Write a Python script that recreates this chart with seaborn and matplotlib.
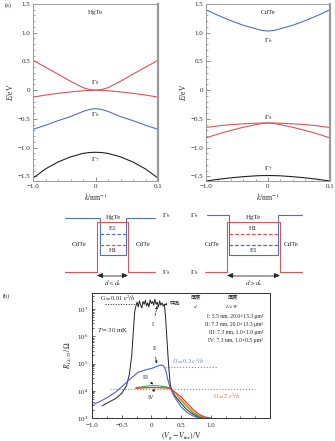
import matplotlib
matplotlib.use("Agg")
import matplotlib.pyplot as plt
import seaborn as sns
import pandas as pd
from matplotlib.ticker import FixedLocator, MultipleLocator, LogLocator, NullFormatter

sns.set_style("ticks")
plt.rcParams['font.family'] = ['Liberation Serif', 'Noto Sans CJK SC', 'DejaVu Sans']
plt.rcParams['mathtext.fontset'] = 'stix'
plt.rcParams['axes.unicode_minus'] = True

# ---------------- data: panel (a) band structure ----------------
k = [-1.0, -0.8, -0.6, -0.4, -0.2, -0.1, 0.0, 0.1, 0.2, 0.4, 0.6, 0.8, 1.0]
k_tick_pos = [-1.0, 0.0, 1.0]
k_tick_labels = ["\u22121.0", "0", "0.1"]
e_ticks = [-1.5, -1.0, -0.5, 0.0, 0.5, 1.0, 1.5]
e_tick_labels = ["\u22121.5", "\u22121.0", "\u22120.5", "0", "0.5", "1.0", "1.5"]

hgte_g8_up = [0.52, 0.40, 0.28, 0.155, 0.045, 0.012, 0.0, 0.012, 0.045, 0.155, 0.28, 0.40, 0.52]
hgte_g8_lo = [-0.12, -0.085, -0.055, -0.03, -0.01, -0.003, 0.0, -0.003, -0.01, -0.03, -0.055, -0.085, -0.12]
hgte_g6 = [-0.68, -0.61, -0.53, -0.46, -0.37, -0.335, -0.32, -0.335, -0.37, -0.46, -0.53, -0.61, -0.68]
hgte_g7 = [-1.53, -1.37, -1.25, -1.16, -1.10, -1.085, -1.08, -1.085, -1.10, -1.16, -1.25, -1.37, -1.53]

cdte_g6 = [1.40, 1.30, 1.21, 1.13, 1.07, 1.04, 1.03, 1.04, 1.07, 1.13, 1.21, 1.30, 1.40]
cdte_g8_up = [-0.65, -0.62, -0.60, -0.585, -0.575, -0.572, -0.57, -0.572, -0.575, -0.585, -0.60, -0.62, -0.65]
cdte_g8_lo = [-0.83, -0.76, -0.70, -0.645, -0.60, -0.58, -0.57, -0.58, -0.60, -0.645, -0.70, -0.76, -0.83]
cdte_g7 = [-1.58, -1.55, -1.525, -1.505, -1.49, -1.486, -1.485, -1.486, -1.49, -1.505, -1.525, -1.55, -1.58]

# ---------------- data: panel (b) resistance ----------------
x_I = [-0.83, -0.72, -0.60, -0.50, -0.42, -0.37, -0.33, -0.30, -0.28,
       -0.26, -0.24, -0.22, -0.20, -0.18, -0.16, -0.14, -0.12, -0.10, -0.08, -0.06, -0.04,
       -0.02, 0.00, 0.02, 0.04, 0.06, 0.08, 0.10, 0.12, 0.14, 0.16, 0.18, 0.20, 0.22,
       0.24, 0.26, 0.28, 0.30, 0.32, 0.36, 0.40, 0.50, 0.60, 0.70, 0.80, 0.90]
R_I = [2.8e3, 3.8e3, 5.2e3, 8e3, 1.5e4, 4e4, 2e5, 2e6, 8e6,
       1.3e7, 1.8e7, 1.2e7, 2.0e7, 1.4e7, 1.1e7, 1.9e7, 1.5e7, 2.1e7, 1.3e7, 1.7e7, 1.2e7,
       2.2e7, 1.6e7, 1.9e7, 1.4e7, 2.3e7, 1.5e7, 1.8e7, 1.2e7, 2.0e7, 1.4e7, 1.7e7, 1.3e7, 1.5e7,
       5e6, 1e6, 2e5, 5e4, 1.6e4, 9e3, 6.5e3, 3.5e3, 2e3, 1.4e3, 1.1e3, 1e3]

x_II = [-0.97, -0.85, -0.72, -0.60, -0.47, -0.35, -0.22, -0.10, 0.00, 0.10, 0.16, 0.20,
        0.24, 0.28, 0.32, 0.40, 0.50, 0.60, 0.70, 0.80, 0.87]
R_II = [3.2e3, 4.2e3, 6e3, 9e3, 1.6e4, 2.8e4, 4.8e4, 5.8e4, 6.6e4, 8e4, 8.8e4, 8.5e4,
        6e4, 2.5e4, 1.2e4, 5.5e3, 2.6e3, 1.6e3, 1.2e3, 1.05e3, 1e3]

x_III = [-0.25, -0.15, -0.05, 0.05, 0.15, 0.25, 0.32, 0.40, 0.50, 0.60, 0.70, 0.80, 0.90, 0.97]
R_III = [1.3e4, 1.4e4, 1.5e4, 1.55e4, 1.5e4, 1.4e4, 1.25e4, 8.5e3, 4.5e3, 2.6e3, 1.6e3, 1.2e3, 1.05e3, 1e3]

x_IVb = [-0.26, -0.15, -0.05, 0.05, 0.15, 0.25, 0.32, 0.40, 0.50, 0.60, 0.70, 0.80, 0.90, 0.98]
R_IVb = [1.2e4, 1.25e4, 1.3e4, 1.3e4, 1.28e4, 1.25e4, 1.18e4, 8.5e3, 5e3, 3e3, 1.8e3, 1.3e3, 1.05e3, 1e3]

x_IV = [-0.27, -0.15, -0.05, 0.05, 0.15, 0.25, 0.32, 0.40, 0.50, 0.60, 0.70, 0.80, 0.90, 1.00]
R_IV = [1.25e4, 1.28e4, 1.3e4, 1.32e4, 1.3e4, 1.28e4, 1.2e4, 9e3, 6e3, 3.6e3, 2.1e3, 1.4e3, 1.1e3, 1e3]

v_ticks = [-1.0, -0.5, 0.0, 0.5, 1.0]
v_tick_labels = ["\u22121.0", "\u22120.5", "0", "0.5", "1.0"]

G001_x = [-0.78, -0.28]; G001_R = [1.5e7, 1.5e7]
G03_x = [0.23, 1.10]; G03_R = [7.2e4, 7.2e4]
G2_x = [-0.70, 1.75]; G2_R = [1.2e4, 1.2e4]

samples = ["I", "II", "III", "IV"]
sample_rows = ["I: 5.5 nm, 20.0\u00d713.3 \u03bcm\u00b2",
               "II: 7.3 nm, 20.0\u00d713.3 \u03bcm\u00b2",
               "III: 7.3 nm, 1.0\u00d71.0 \u03bcm\u00b2",
               "IV: 7.3 nm, 1.0\u00d70.5 \u03bcm\u00b2"]

RED = "#e0525a"
BLUE = "#5570b8"
BLK = "#222222"

W, H = 335, 441
fig = plt.figure(figsize=(W / 100, H / 100), dpi=100)


def rect(x0, y0, x1, y1):
    return [x0 / W, 1 - y1 / H, (x1 - x0) / W, (y1 - y0) / H]


FS = 5.0


def band_panel(ax, curves, title, labels):
    for vals, color in curves:
        sns.lineplot(x=k, y=vals, ax=ax, color=color, lw=0.8, estimator=None, sort=False, legend=False)
    ax.set_xlim(-1.0, 1.0)
    ax.set_ylim(-1.58, 1.5)
    ax.xaxis.set_major_locator(FixedLocator(k_tick_pos))
    ax.set_xticklabels(k_tick_labels)
    ax.yaxis.set_major_locator(FixedLocator(e_ticks))
    ax.set_yticklabels(e_tick_labels)
    ax.xaxis.set_minor_locator(MultipleLocator(0.2))
    ax.yaxis.set_minor_locator(MultipleLocator(0.1))
    ax.tick_params(which='both', direction='in', labelsize=FS, color='#666666', top=False, right=False, pad=2)
    ax.tick_params(which='major', length=3, width=0.5)
    ax.tick_params(which='minor', length=1.5, width=0.4)
    for s in ax.spines.values():
        s.set_color('#9a9a9a')
        s.set_linewidth(0.7)
    ax.spines['right'].set_linewidth(1.6)
    ax.set_xlabel(r"$k$/nm$^{-1}$", fontsize=FS + 0.5, labelpad=2)
    ax.set_ylabel(r"$E$/eV", fontsize=FS + 0.5, labelpad=2)
    ax.text(0, 1.36, title, ha='center', va='center', fontsize=FS)
    for (txt, y) in labels:
        ax.text(0, y, txt, ha='center', va='center', fontsize=FS)


axL = fig.add_axes(rect(33, 4, 158, 181))
band_panel(axL, [(hgte_g8_up, RED), (hgte_g8_lo, RED), (hgte_g6, BLUE), (hgte_g7, BLK)], "HgTe",
           [(r"$\mathit{\Gamma}_8$", 0.14), (r"$\mathit{\Gamma}_6$", -0.42), (r"$\mathit{\Gamma}_7$", -1.2)])
axR = fig.add_axes(rect(206, 4, 330, 181))
band_panel(axR, [(cdte_g6, BLUE), (cdte_g8_up, RED), (cdte_g8_lo, RED), (cdte_g7, BLK)], "CdTe",
           [(r"$\mathit{\Gamma}_6$", 0.86), (r"$\mathit{\Gamma}_8$", -0.47), (r"$\mathit{\Gamma}_7$", -1.36)])

# ---------------- schematic (pixel-coordinate overlay) ----------------
ov = fig.add_axes([0, 0, 1, 1])
ov.set_xlim(0, W)
ov.set_ylim(H, 0)
ov.axis('off')
ov.patch.set_alpha(0)

schem_left = dict(blue_x=[65, 100, 100, 126, 126, 155], blue_y=[218, 218, 255, 255, 218, 218],
                  red_x=[65, 97, 97, 128, 128, 155], red_y=[272, 272, 222, 222, 272, 272],
                  well=(100, 126), upper=("E1", BLUE), lower=("H1", RED), arrow=(97, 128),
                  cd=(79, 143), lab_x=166, cap=r"$d<d_{\rm c}$")
schem_right = dict(blue_x=[207, 229, 229, 278, 278, 302], blue_y=[215, 215, 255, 255, 215, 215],
                   red_x=[205, 227, 227, 280, 280, 302], red_y=[272, 272, 222, 222, 272, 272],
                   well=(229, 278), upper=("H1", RED), lower=("E1", BLUE), arrow=(227, 280),
                   cd=(212, 291), lab_x=194, cap=r"$d>d_{\rm c}$")

for sc in (schem_left, schem_right):
    ov.plot(sc['blue_x'], sc['blue_y'], color=BLUE, lw=0.8)
    ov.plot(sc['red_x'], sc['red_y'], color=RED, lw=0.8)
    w0, w1 = sc['well']
    cx = (w0 + w1) / 2
    ov.plot([w0, w1], [234, 234], color=sc['upper'][1], lw=0.9, ls=(0, (3, 1.5)))
    ov.plot([w0, w1], [245, 245], color=sc['lower'][1], lw=0.9, ls=(0, (3, 1.5)))
    ov.text(cx, 228, sc['upper'][0], ha='center', va='center', fontsize=FS)
    ov.text(cx, 250, sc['lower'][0], ha='center', va='center', fontsize=FS)
    ov.text(cx, 217, "HgTe", ha='center', va='center', fontsize=FS)
    ov.text(sc['cd'][0], 244, "CdTe", ha='center', va='center', fontsize=FS)
    ov.text(sc['cd'][1], 244, "CdTe", ha='center', va='center', fontsize=FS)
    ov.text(sc['lab_x'], 216, r"$\mathit{\Gamma}_6$", ha='center', va='center', fontsize=FS)
    ov.text(sc['lab_x'], 273, r"$\mathit{\Gamma}_8$", ha='center', va='center', fontsize=FS)
    a0, a1 = sc['arrow']
    ov.plot([a0 + 2, a1 - 2], [275.5, 275.5], color='#a0a0a0', lw=1.4, solid_capstyle='butt')
    for tip, tail in ((a0, a0 + 5), (a1, a1 - 5)):
        ov.annotate('', xy=(tip, 275.5), xytext=(tail, 275.5),
                    arrowprops=dict(arrowstyle='-|>,head_length=0.35,head_width=0.15',
                                    color=BLK, lw=0.5, shrinkA=0, shrinkB=0))
    ov.text(cx, 283, sc['cap'], ha='center', va='center', fontsize=FS)

ov.text(5, 5, "(a)", ha='left', va='center', fontsize=FS - 0.5)
ov.text(3, 296, "(b)", ha='left', va='center', fontsize=FS - 0.5)

# ---------------- panel (b) ----------------
axb = fig.add_axes(rect(92, 293, 270, 418))
curve_specs = [(x_I, R_I, BLK, 0.7), (x_II, R_II, "#4d5fd0", 0.8), (x_III, R_III, "#3aa84a", 0.8),
               (x_IVb, R_IVb, "#f0a030", 0.7), (x_IV, R_IV, "#e03a3a", 0.8)]
sns.lineplot(x=G001_x, y=G001_R, ax=axb, color=BLK, lw=0.7, ls=':', estimator=None, legend=False)
sns.lineplot(x=G03_x, y=G03_R, ax=axb, color="#6f7fe6", lw=0.8, ls=':', estimator=None, legend=False)
sns.lineplot(x=G2_x, y=G2_R, ax=axb, color="#f06060", lw=0.8, ls=':', estimator=None, legend=False)
for xs, rs, c, lw in curve_specs:
    sns.lineplot(x=xs, y=rs, ax=axb, color=c, lw=lw, estimator=None, sort=False, legend=False)
axb.set_yscale('log')
axb.set_xlim(-1.0, 2.0)
axb.set_ylim(1e3, 3.9e7)
axb.xaxis.set_major_locator(FixedLocator(v_ticks))
axb.set_xticklabels(v_tick_labels)
axb.xaxis.set_minor_locator(FixedLocator([-0.75, -0.25, 0.25, 0.75, 1.25, 1.5, 1.75]))
axb.yaxis.set_major_locator(LogLocator(base=10, numticks=10))
axb.yaxis.set_minor_locator(LogLocator(base=10, subs=range(2, 10), numticks=20))
axb.yaxis.set_minor_formatter(NullFormatter())
axb.tick_params(which='both', direction='in', labelsize=FS, width=0.5)
axb.tick_params(axis='x', pad=3.5)
axb.tick_params(axis='y', pad=2.5)
axb.tick_params(which='major', length=2.5)
axb.tick_params(which='minor', length=1.3)
for s in axb.spines.values():
    s.set_color('#333333')
    s.set_linewidth(0.7)
axb.set_xlabel(r"$(V_{\rm g}-V_{\rm thr})$/V", fontsize=FS + 0.5, labelpad=2)
axb.set_ylabel(r"$R_{14,23}/\Omega$", fontsize=FS + 0.5, labelpad=3)

axb.text(-0.87, 2.6e7, r"G$=$0.01 $e^2/h$", fontsize=FS - 0.5, ha='left', va='center')
axb.text(0.62, 1.25e5, r"$G=$0.3 $e^2/h$", fontsize=FS - 0.5, color="#6f7fe6", ha='center', va='center')
axb.text(1.28, 6.5e3, r"$G=2$ $e^2/h$", fontsize=FS - 0.5, color="#f06060", ha='center', va='center')
axb.text(-0.92, 1.7e6, r"$T=30$ mK", fontsize=FS, ha='left', va='center')

ann = [("I", (0.03, 2.8e6), (0.10, 1.3e7), '--'),
       ("II", (0.05, 3.6e5), (0.09, 1.0e5), '-'),
       ("III", (-0.10, 3.1e4), (0.03, 1.7e4), '-'),
       ("IV", (0.0, 5.6e3), (0.05, 1.2e4), '-')]
for lab, xyt, xy, ls in ann:
    axb.annotate(lab, xy=xy, xytext=xyt, fontsize=FS - 0.5, ha='center', va='center',
                 arrowprops=dict(arrowstyle='-|>,head_length=0.3,head_width=0.15', color=BLK,
                                 lw=0.5, ls=ls, shrinkA=2, shrinkB=0))

TS = 3.8
RS = 4.1
axb.annotate("样品", xy=(0.22, 1.5e7), xytext=(0.40, 1.5e7), fontsize=TS, ha='center', va='center',
             arrowprops=dict(arrowstyle='-|>,head_length=0.3,head_width=0.15', color=BLK, lw=0.5,
                             shrinkA=1, shrinkB=0))
axb.text(0.75, 2.5e7, "厚度", fontsize=TS, ha='center', va='center')
axb.text(0.75, 1.25e7, r"$d$", fontsize=TS, ha='center', va='center')
axb.text(1.37, 2.5e7, "厚度", fontsize=TS, ha='center', va='center')
axb.text(1.37, 1.25e7, r"$L\times W$", fontsize=TS, ha='center', va='center')
row_y = [5.5e6, 2.8e6, 1.43e6, 7.3e5]
for txt, yv in zip(sample_rows, row_y):
    axb.text(1.88, yv, txt, fontsize=RS, ha='right', va='center')

fig.savefig("out.png", dpi=100)
